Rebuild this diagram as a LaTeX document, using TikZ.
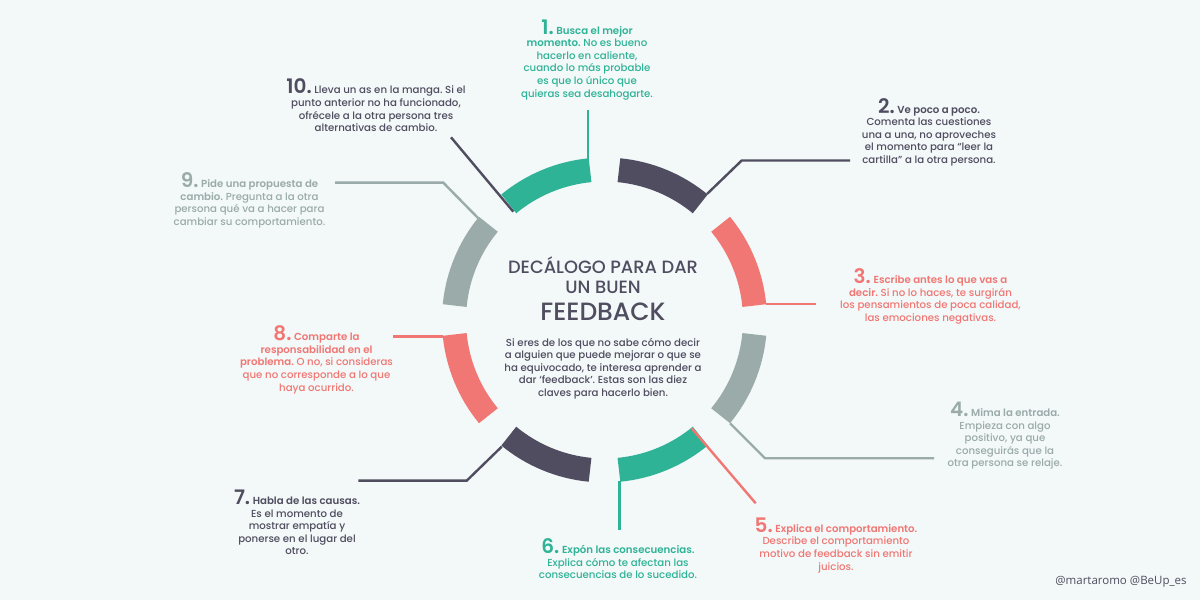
\documentclass[tikz,border=0pt]{standalone}
\usepackage{fontspec}
\setmainfont[BoldFont={Poppins SemiBold}]{Poppins Medium}
\newfontfamily\firmafont{Open Sans}
\definecolor{fondo}{HTML}{F3F8F9}
\definecolor{verde}{HTML}{2FB396}
\definecolor{oscuro}{HTML}{4F4D5F}
\definecolor{rojo}{HTML}{F07773}
\definecolor{gris}{HTML}{9AABA9}
\newcommand{\num}[1]{\smash{\fontsize{20}{12.6}\selectfont\bfseries #1}}
\tikzset{
	paso/.style={align=center, font=\fontsize{10.2}{12.6}\selectfont\frenchspacing},
	linea/.style={line width=2.4pt, line join=miter},
	titulo/.style={align=center, color=oscuro}
}
\begin{document}
\begin{tikzpicture}[x=1pt, y=1pt]
	\useasboundingbox[fill=fondo] (0,0) rectangle (1200,600);
	\coordinate (centro) at (604.5,280);

	\foreach \ini/\col in {95.5/verde, 50.5/oscuro, 5.5/rojo, 320.5/gris, 275.5/verde, 230.5/oscuro, 185.5/rojo, 140.5/gris}
		\draw[line width=24pt, color=\col] (centro) ++(\ini:150.5) arc[start angle=\ini, delta angle=34, radius=150.5];

	\node[titulo, font=\fontsize{17.8}{20}\selectfont] (decalogo) at (603,325) {DECÁLOGO PARA DAR\\UN BUEN};
	\node[titulo, font=\fontsize{25}{24}\selectfont] (feedback) at (603,288) {FEEDBACK};
	\node[paso, color=oscuro] (intro) at (603,231.5) {Si eres de los que no sabe cómo decir\\a alguien que puede mejorar o que se\\ha equivocado, te interesa aprender a\\dar ‘feedback’. Estas son las diez\\claves para hacerlo bien.};

	\node[paso, color=verde] (p1) at (587,537) {\num{1.} \textbf{Busca el mejor}\\\textbf{momento.} No es bueno\\hacerlo en caliente,\\cuando lo más probable\\es que lo único que\\quieras sea desahogarte.};
	\node[paso, color=oscuro] (p2) at (929,464) {\num{2.} \textbf{Ve poco a poco.}\\Comenta las cuestiones\\una a una, no aproveches\\el momento para “leer la\\cartilla” a la otra persona.};
	\node[paso, color=rojo] (p3) at (930.5,300) {\num{3.} \textbf{Escribe antes lo que vas a}\\\textbf{decir.} Si no lo haces, te surgirán\\los pensamientos de poca calidad,\\las emociones negativas.};
	\node[paso, color=gris] (p4) at (1005,161) {\num{4.} \textbf{Mima la entrada.}\\Empieza con algo\\positivo, ya que\\conseguirás que la\\otra persona se relaje.};
	\node[paso, color=rojo] (p5) at (836,51.5) {\num{5.} \textbf{Explica el comportamiento.}\\Describe el comportamiento\\motivo de feedback sin emitir\\juicios.};
	\node[paso, color=verde] (p6) at (618,38) {\num{6.} \textbf{Expón las consecuencias.}\\Explica cómo te afectan las\\consecuencias de lo sucedido.};
	\node[paso, color=oscuro] (p7) at (297,74) {\num{7.} \textbf{Habla de las causas.}\\Es el momento de\\mostrar empatía y\\ponerse en el lugar del\\otro.};
	\node[paso, color=rojo] (p8) at (316.5,236.5) {\num{8.} \textbf{Comparte la}\\\textbf{responsabilidad en el}\\\textbf{problema.} O no, si consideras\\que no corresponde a lo que\\haya ocurrido.};
	\node[paso, color=gris] (p9) at (249.5,396) {\num{9.} \textbf{Pide una propuesta de}\\\textbf{cambio.} Pregunta a la otra\\persona qué va a hacer para\\cambiar su comportamiento.};
	\node[paso, color=oscuro] (p10) at (376,491) {\num{10.} Lleva un as en la manga. Si el\\punto anterior no ha funcionado,\\ofrécele a la otra persona tres\\alternativas de cambio.};

	\node[color=oscuro, font=\fontsize{11.5}{12}\selectfont\firmafont] (firma) at (1121,18) {@martaromo @BeUp\_es};

	% lineas desde cada arco
	\coordinate (a1) at (588,441);
	\coordinate (b1) at (588,490);
	\coordinate (a2) at (707,406);
	\coordinate (e2) at (741.7,439.5);
	\coordinate (b2) at (850,439.5);
	\coordinate (a3) at (766,295.7);
	\coordinate (b3) at (815.7,295.7);
	\coordinate (a4) at (730,176.7);
	\coordinate (e4) at (765,141.7);
	\coordinate (b4) at (934,141.7);
	\coordinate (a5) at (691.7,171.7);
	\coordinate (b5) at (755.7,96.7);
	\coordinate (a6) at (619.3,119);
	\coordinate (b6) at (619.3,70);
	\coordinate (a7) at (501.7,153.3);
	\coordinate (e7) at (466.7,119.3);
	\coordinate (b7) at (358.3,119.3);
	\coordinate (a8) at (443.3,263.3);
	\coordinate (b8) at (393.3,263.3);
	\coordinate (a9) at (478.3,381.7);
	\coordinate (e9) at (443.3,417.3);
	\coordinate (b9) at (335,417.3);
	\coordinate (a10) at (513.3,388.3);
	\coordinate (b10) at (451,462.7);

	\draw[linea, color=verde] (a1) -- (b1);
	\draw[linea, color=oscuro] (a2) -- (e2) -- (b2);
	\draw[linea, color=rojo] (a3) -- (b3);
	\draw[linea, color=gris] (a4) -- (e4) -- (b4);
	\draw[linea, color=rojo] (a5) -- (b5);
	\draw[linea, color=verde] (a6) -- (b6);
	\draw[linea, color=oscuro] (a7) -- (e7) -- (b7);
	\draw[linea, color=rojo] (a8) -- (b8);
	\draw[linea, color=gris] (a9) -- (e9) -- (b9);
	\draw[linea, color=oscuro] (a10) -- (b10);
\end{tikzpicture}
\end{document}
